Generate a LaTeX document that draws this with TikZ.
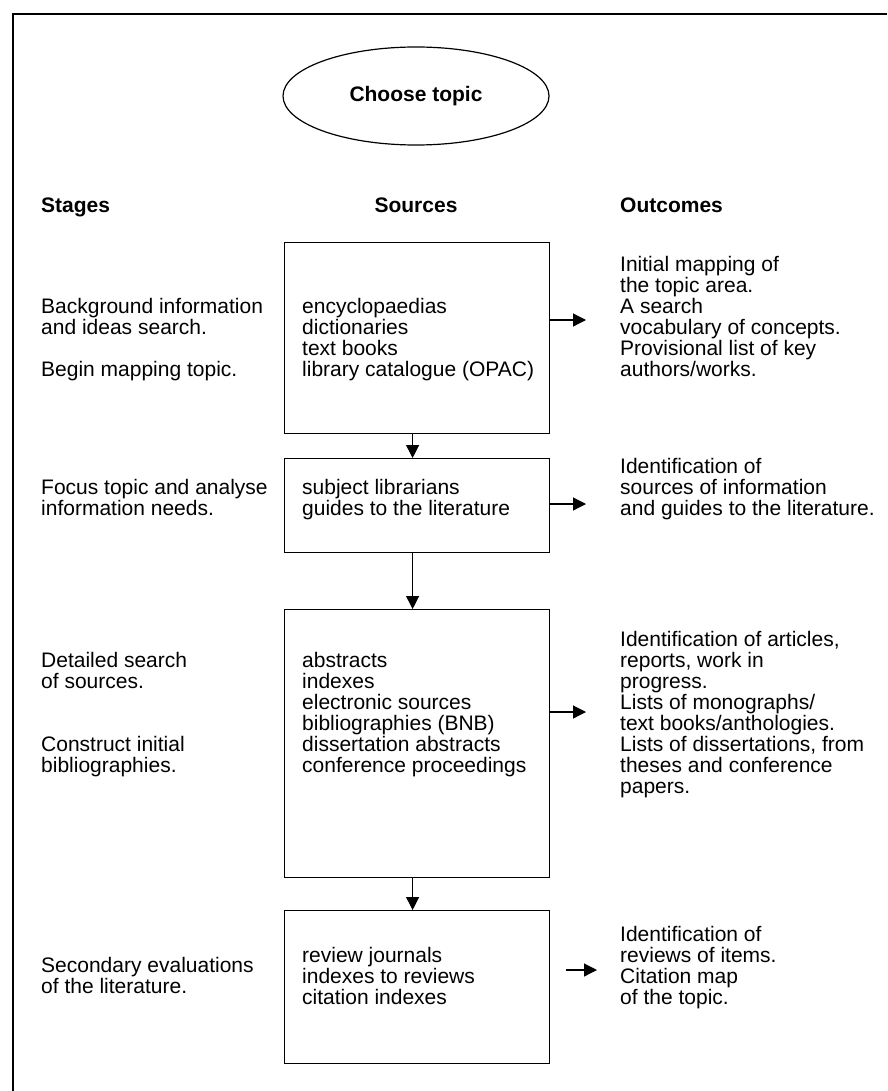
\documentclass[tikz,border=0pt]{standalone}
\usepackage{fontspec}
\setmainfont{Liberation Sans}
\usetikzlibrary{arrows.meta,shapes.geometric}
\begin{document}
\begin{tikzpicture}[x=1pt,y=-1pt,
  txt/.style={inner sep=0pt, anchor=base west, font=\fontsize{21}{21}\selectfont},
  hdr/.style={inner sep=0pt, anchor=base west, font=\fontsize{21}{21}\selectfont\bfseries},
  srcbox/.style={draw, line width=1.2pt, inner sep=0pt, minimum width=265pt, anchor=north west},
  flow/.style={line width=1.2pt, -{Triangle[length=13pt,width=13pt]}},
  frameline/.style={line width=1.2pt}]
\useasboundingbox (0,0) rectangle (887,1091);

% open frame: top and left rules
\draw[frameline] (13,1091) -- (13,14) -- (887,14);

% start of the process
\node[draw, ellipse, line width=1.2pt, minimum width=266pt, minimum height=98pt,
      inner sep=0pt, font=\fontsize{21}{21}\selectfont\bfseries] (topic) at (416,96) {Choose topic};

% column headings
\node[hdr] (hstages) at (41,213) {Stages};
\node[hdr, anchor=base] (hsources) at (416,213) {Sources};
\node[hdr] (houtcomes) at (620,213) {Outcomes};

% source boxes
\node[srcbox, minimum height=191pt] (b1) at (284,242) {};
\node[srcbox, minimum height=94pt]  (b2) at (284,458) {};
\node[srcbox, minimum height=268pt] (b3) at (284,609) {};
\node[srcbox, minimum height=153pt] (b4) at (284,910) {};

% stages
\node[txt] (s1a) at (41,313) {Background information};
\node[txt] (s1b) at (41,334) {and ideas search.};
\node[txt] (s1c) at (41,376) {Begin mapping topic.};
\node[txt] (s2a) at (41,494) {Focus topic and analyse};
\node[txt] (s2b) at (41,515) {information needs.};
\node[txt] (s3a) at (41,667) {Detailed search};
\node[txt] (s3b) at (41,688) {of sources.};
\node[txt] (s3c) at (41,751) {Construct initial};
\node[txt] (s3d) at (41,772) {bibliographies.};
\node[txt] (s4a) at (41,972) {Secondary evaluations};
\node[txt] (s4b) at (41,993) {of the literature.};

% sources
\node[txt] (r1a) at (302,313) {encyclopaedias};
\node[txt] (r1b) at (302,334) {dictionaries};
\node[txt] (r1c) at (302,355) {text books};
\node[txt] (r1d) at (302,376) {library catalogue (OPAC)};
\node[txt] (r2a) at (302,494) {subject librarians};
\node[txt] (r2b) at (302,515) {guides to the literature};
\node[txt] (r3a) at (302,667) {abstracts};
\node[txt] (r3b) at (302,688) {indexes};
\node[txt] (r3c) at (302,709) {electronic sources};
\node[txt] (r3d) at (302,730) {bibliographies (BNB)};
\node[txt] (r3e) at (302,751) {dissertation abstracts};
\node[txt] (r3f) at (302,772) {conference proceedings};
\node[txt] (r4a) at (302,962) {review journals};
\node[txt] (r4b) at (302,983) {indexes to reviews};
\node[txt] (r4c) at (302,1004) {citation indexes};

% outcomes
\node[txt] (o1a) at (620,271) {Initial mapping of};
\node[txt] (o1b) at (620,292) {the topic area.};
\node[txt] (o1c) at (620,313) {A search};
\node[txt] (o1d) at (620,334) {vocabulary of concepts.};
\node[txt] (o1e) at (620,355) {Provisional list of key};
\node[txt] (o1f) at (620,376) {authors/works.};
\node[txt] (o2a) at (620,473) {Identification of};
\node[txt] (o2b) at (620,494) {sources of information};
\node[txt] (o2c) at (620,515) {and guides to the literature.};
\node[txt] (o3a) at (620,646) {Identification of articles,};
\node[txt] (o3b) at (620,667) {reports, work in};
\node[txt] (o3c) at (620,688) {progress.};
\node[txt] (o3d) at (620,709) {Lists of monographs/};
\node[txt] (o3e) at (620,730) {text books/anthologies.};
\node[txt] (o3f) at (620,751) {Lists of dissertations, from};
\node[txt] (o3g) at (620,772) {theses and conference};
\node[txt] (o3h) at (620,793) {papers.};
\node[txt] (o4a) at (620,941) {Identification of};
\node[txt] (o4b) at (620,962) {reviews of items.};
\node[txt] (o4c) at (620,983) {Citation map};
\node[txt] (o4d) at (620,1004) {of the topic.};

% arrow ends
\coordinate (t1) at (586,320);
\coordinate (t2) at (586,504);
\coordinate (t3) at (586,712);
\coordinate (f4) at (566,970);
\coordinate (t4) at (597,970);

% flow between source boxes
\draw[flow] ([xshift=-4.5pt]b1.south) -- ([xshift=-4.5pt]b2.north);
\draw[flow] ([xshift=-4.5pt]b2.south) -- ([xshift=-4.5pt]b3.north);
\draw[flow] ([xshift=-4.5pt]b3.south) -- ([xshift=-4.5pt]b4.north);

% flow to outcomes
\draw[flow] (b1.east |- t1) -- (t1);
\draw[flow] (b2.east |- t2) -- (t2);
\draw[flow] (b3.east |- t3) -- (t3);
\draw[flow] (f4) -- (t4);
\end{tikzpicture}
\end{document}
